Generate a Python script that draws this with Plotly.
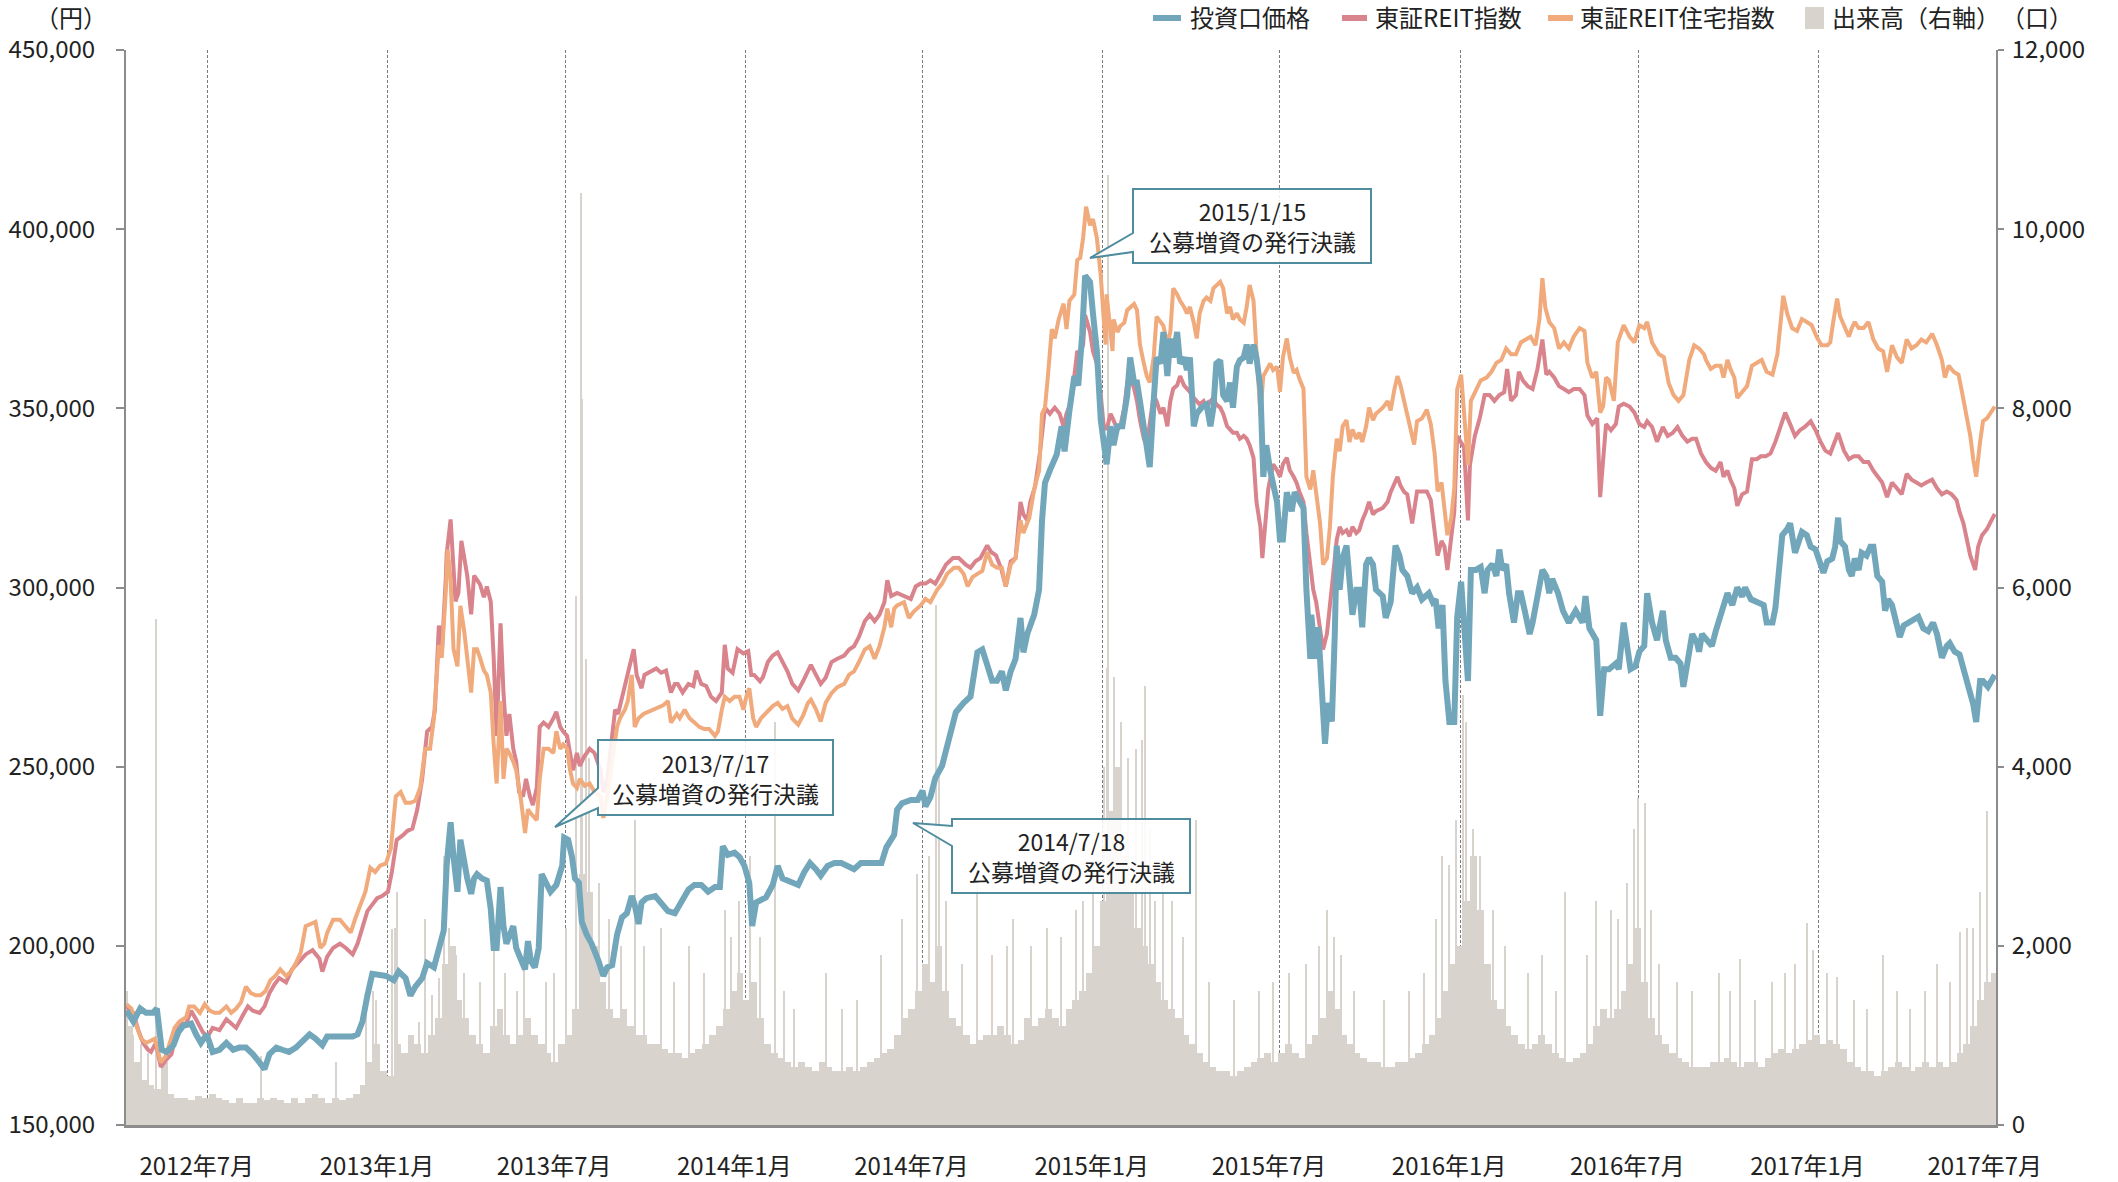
import pandas as pd
import plotly.graph_objects as go

# ---------------------------------------------------------------- data
# 投資口価格 (yen)
price_points = [
    ("2012-04-09", 181900), ("2012-04-16", 178900), ("2012-04-23", 182500), ("2012-04-29", 181300),
    ("2012-05-06", 181300), ("2012-05-10", 182500), ("2012-05-15", 171000), ("2012-05-20", 170400),
    ("2012-05-27", 172300), ("2012-06-01", 175900), ("2012-06-06", 177700), ("2012-06-14", 178300),
    ("2012-06-19", 175300), ("2012-06-24", 172900), ("2012-06-30", 175300), ("2012-07-06", 170400),
    ("2012-07-13", 171000), ("2012-07-20", 172900), ("2012-07-27", 171000), ("2012-08-02", 171600),
    ("2012-08-09", 171600), ("2012-08-16", 169800), ("2012-08-23", 167400), ("2012-08-28", 165600),
    ("2012-09-02", 169800), ("2012-09-09", 171600), ("2012-09-15", 171000), ("2012-09-22", 170400),
    ("2012-09-29", 171600), ("2012-10-06", 173500), ("2012-10-13", 175300), ("2012-10-19", 174100),
    ("2012-10-26", 172300), ("2012-10-31", 174700), ("2012-11-09", 174700), ("2012-11-19", 174700),
    ("2012-11-26", 174700), ("2012-12-01", 175300), ("2012-12-06", 178900), ("2012-12-11", 186100),
    ("2012-12-16", 192200), ("2012-12-30", 191600), ("2013-01-07", 190400), ("2013-01-12", 192800),
    ("2013-01-19", 191000), ("2013-01-24", 186100), ("2013-01-29", 188600), ("2013-02-05", 191000),
    ("2013-02-10", 195200), ("2013-02-17", 194000), ("2013-02-22", 199400), ("2013-02-27", 204300),
    ("2013-03-02", 222400), ("2013-03-06", 234500), ("2013-03-09", 224800), ("2013-03-13", 215100),
    ("2013-03-16", 229600), ("2013-03-20", 222400), ("2013-03-23", 218800), ("2013-03-27", 214500),
    ("2013-03-30", 218800), ("2013-04-02", 220000), ("2013-04-07", 218800), ("2013-04-12", 218200),
    ("2013-04-16", 210300), ("2013-04-19", 199400), ("2013-04-22", 199400), ("2013-04-26", 216400),
    ("2013-04-29", 205500), ("2013-05-02", 200600), ("2013-05-05", 203100), ("2013-05-09", 205500),
    ("2013-05-12", 199400), ("2013-05-17", 196400), ("2013-05-21", 193400), ("2013-05-24", 201300),
    ("2013-05-27", 195800), ("2013-05-31", 194000), ("2013-06-04", 199400), ("2013-06-07", 220000),
    ("2013-06-11", 217600), ("2013-06-16", 215100), ("2013-06-22", 217000), ("2013-06-28", 222400),
    ("2013-06-30", 230200), ("2013-07-04", 229600), ("2013-07-08", 224800), ("2013-07-11", 218800),
    ("2013-07-15", 217600), ("2013-07-18", 206700), ("2013-07-23", 203100), ("2013-07-28", 200600),
    ("2013-08-04", 195800), ("2013-08-09", 191600), ("2013-08-13", 194000), ("2013-08-18", 194600),
    ("2013-08-23", 203100), ("2013-08-28", 207900), ("2013-09-02", 209100), ("2013-09-07", 213900),
    ("2013-09-10", 211500), ("2013-09-14", 206100), ("2013-09-17", 212100), ("2013-09-22", 213300),
    ("2013-10-01", 213900), ("2013-10-07", 212100), ("2013-10-14", 209700), ("2013-10-21", 209100),
    ("2013-10-28", 212700), ("2013-11-04", 215700), ("2013-11-10", 217000), ("2013-11-17", 217000),
    ("2013-11-24", 215100), ("2013-12-01", 216400), ("2013-12-06", 216400), ("2013-12-09", 227800),
    ("2013-12-14", 225400), ("2013-12-21", 226000), ("2013-12-26", 224800), ("2013-12-31", 222400),
    ("2014-01-05", 217600), ("2014-01-08", 205500), ("2014-01-12", 212100), ("2014-01-17", 212700),
    ("2014-01-22", 213500), ("2014-01-29", 217000), ("2014-02-03", 222300), ("2014-02-08", 218800),
    ("2014-02-17", 217900), ("2014-02-24", 217000), ("2014-03-02", 220500), ("2014-03-08", 223100),
    ("2014-03-14", 221400), ("2014-03-19", 219600), ("2014-03-26", 222300), ("2014-04-02", 223100),
    ("2014-04-09", 223100), ("2014-04-16", 222300), ("2014-04-22", 221400), ("2014-04-29", 223100),
    ("2014-05-06", 223100), ("2014-05-13", 223100), ("2014-05-20", 223100), ("2014-05-25", 227500),
    ("2014-05-30", 229300), ("2014-06-02", 231000), ("2014-06-05", 238000), ("2014-06-10", 239800),
    ("2014-06-19", 240700), ("2014-06-26", 240700), ("2014-07-01", 243300), ("2014-07-04", 238900),
    ("2014-07-09", 241500), ("2014-07-14", 246800), ("2014-07-21", 250300), ("2014-07-28", 258200),
    ("2014-08-04", 265200), ("2014-08-12", 267800), ("2014-08-19", 269600), ("2014-08-26", 281900),
    ("2014-08-31", 282700), ("2014-09-05", 278400), ("2014-09-10", 274000), ("2014-09-15", 274000),
    ("2014-09-20", 276600), ("2014-09-24", 271300), ("2014-09-29", 276600), ("2014-10-04", 280100),
    ("2014-10-09", 291500), ("2014-10-12", 281900), ("2014-10-16", 287100), ("2014-10-23", 292400),
    ("2014-10-28", 299400), ("2014-10-31", 318700), ("2014-11-03", 329200), ("2014-11-08", 332700),
    ("2014-11-15", 337100), ("2014-11-20", 345000), ("2014-11-23", 338000), ("2014-11-28", 349400),
    ("2014-12-03", 359000), ("2014-12-07", 356400), ("2014-12-11", 370500), ("2014-12-14", 387000),
    ("2014-12-19", 385300), ("2014-12-22", 376500), ("2014-12-26", 366000), ("2014-12-30", 346700),
    ("2015-01-02", 339700), ("2015-01-05", 334400), ("2015-01-09", 345000), ("2015-01-12", 339700),
    ("2015-01-16", 345000), ("2015-01-21", 345000), ("2015-01-26", 353700), ("2015-01-29", 364200),
    ("2015-02-02", 357200), ("2015-02-05", 357200), ("2015-02-08", 352000), ("2015-02-12", 345000),
    ("2015-02-15", 337900), ("2015-02-18", 333600), ("2015-02-22", 352000), ("2015-02-25", 364200),
    ("2015-03-01", 362500), ("2015-03-04", 371300), ("2015-03-08", 359000), ("2015-03-11", 369500),
    ("2015-03-14", 364200), ("2015-03-18", 371300), ("2015-03-21", 362500), ("2015-03-25", 364200),
    ("2015-03-28", 360700), ("2015-03-31", 364200), ("2015-04-04", 345000), ("2015-04-07", 348500),
    ("2015-04-12", 350200), ("2015-04-17", 351100), ("2015-04-21", 345000), ("2015-04-24", 350200),
    ("2015-04-27", 362500), ("2015-05-01", 363400), ("2015-05-04", 353700), ("2015-05-08", 352000),
    ("2015-05-11", 357200), ("2015-05-14", 350200), ("2015-05-18", 361600), ("2015-05-21", 363400),
    ("2015-05-25", 364200), ("2015-05-28", 367800), ("2015-05-31", 362500), ("2015-06-04", 367800),
    ("2015-06-07", 364200), ("2015-06-11", 355500), ("2015-06-14", 330900), ("2015-06-17", 339700),
    ("2015-06-21", 332700), ("2015-06-24", 329200), ("2015-06-28", 323900), ("2015-07-01", 313400),
    ("2015-07-04", 313400), ("2015-07-08", 326600), ("2015-07-13", 321300), ("2015-07-16", 326600),
    ("2015-07-20", 324800), ("2015-07-25", 322200), ("2015-07-28", 299400), ("2015-08-01", 280100),
    ("2015-08-02", 292400), ("2015-08-06", 280100), ("2015-08-09", 288900), ("2015-08-12", 271300),
    ("2015-08-16", 256400), ("2015-08-19", 267800), ("2015-08-23", 262600), ("2015-08-26", 287100),
    ("2015-08-28", 311700), ("2015-08-31", 299400), ("2015-09-03", 308200), ("2015-09-07", 311700),
    ("2015-09-10", 301100), ("2015-09-13", 292400), ("2015-09-17", 299400), ("2015-09-20", 299400),
    ("2015-09-23", 288900), ("2015-09-27", 306400), ("2015-09-30", 308200), ("2015-10-04", 306400),
    ("2015-10-07", 299400), ("2015-10-14", 297600), ("2015-10-17", 291500), ("2015-10-22", 295900),
    ("2015-10-27", 311700), ("2015-10-31", 308900), ("2015-11-03", 304900), ("2015-11-08", 303200),
    ("2015-11-13", 298400), ("2015-11-18", 300000), ("2015-11-23", 296700), ("2015-11-30", 298400),
    ("2015-12-04", 295900), ("2015-12-07", 296700), ("2015-12-10", 288600), ("2015-12-14", 295100),
    ("2015-12-17", 273900), ("2015-12-21", 262500), ("2015-12-26", 262500), ("2015-12-29", 291800),
    ("2016-01-02", 301600), ("2016-01-05", 291800), ("2016-01-09", 273900), ("2016-01-12", 304900),
    ("2016-01-17", 304900), ("2016-01-22", 305700), ("2016-01-26", 298400), ("2016-01-29", 304900),
    ("2016-02-03", 306500), ("2016-02-07", 303200), ("2016-02-10", 310600), ("2016-02-13", 304900),
    ("2016-02-17", 306500), ("2016-02-20", 298400), ("2016-02-25", 290200), ("2016-02-29", 298400),
    ("2016-03-03", 298400), ("2016-03-07", 293500), ("2016-03-12", 287000), ("2016-03-15", 290200),
    ("2016-03-20", 298400), ("2016-03-25", 304900), ("2016-03-29", 303200), ("2016-04-01", 298400),
    ("2016-04-04", 302400), ("2016-04-10", 298400), ("2016-04-15", 293500), ("2016-04-21", 290200),
    ("2016-04-28", 293500), ("2016-05-05", 290200), ("2016-05-08", 297600), ("2016-05-12", 288600),
    ("2016-05-19", 285300), ("2016-05-23", 264200), ("2016-05-27", 277200), ("2016-06-01", 277200),
    ("2016-06-08", 278800), ("2016-06-11", 277200), ("2016-06-16", 290200), ("2016-06-20", 283700),
    ("2016-06-23", 277200), ("2016-06-28", 278000), ("2016-07-02", 282100), ("2016-07-07", 283700),
    ("2016-07-10", 298400), ("2016-07-15", 290200), ("2016-07-20", 285300), ("2016-07-26", 293500),
    ("2016-07-29", 285300), ("2016-08-03", 280400), ("2016-08-08", 280400), ("2016-08-13", 278800),
    ("2016-08-16", 272300), ("2016-08-20", 278800), ("2016-08-25", 287000), ("2016-08-30", 284500),
    ("2016-09-01", 282100), ("2016-09-04", 287000), ("2016-09-09", 285300), ("2016-09-14", 283700),
    ("2016-09-18", 287800), ("2016-09-21", 290200), ("2016-09-26", 295100), ("2016-09-30", 298400),
    ("2016-10-05", 295100), ("2016-10-10", 300000), ("2016-10-15", 297500), ("2016-10-18", 300000),
    ("2016-10-24", 296700), ("2016-10-29", 295900), ("2016-11-03", 295100), ("2016-11-06", 295100),
    ("2016-11-09", 290200), ("2016-11-15", 290200), ("2016-11-18", 294300), ("2016-11-21", 304900),
    ("2016-11-25", 314600), ("2016-11-30", 316300), ("2016-12-03", 317900), ("2016-12-08", 309700),
    ("2016-12-12", 313800), ("2016-12-15", 315500), ("2016-12-20", 314600), ("2016-12-24", 311400),
    ("2016-12-29", 310600), ("2017-01-03", 306500), ("2017-01-06", 304100), ("2017-01-10", 307300),
    ("2017-01-15", 308100), ("2017-01-18", 311400), ("2017-01-21", 319500), ("2017-01-23", 313000),
    ("2017-01-28", 311400), ("2017-02-01", 304900), ("2017-02-04", 303200), ("2017-02-07", 308100),
    ("2017-02-11", 304900), ("2017-02-14", 309700), ("2017-02-19", 308900), ("2017-02-23", 311400),
    ("2017-02-26", 311400), ("2017-03-02", 303200), ("2017-03-07", 301600), ("2017-03-10", 293500),
    ("2017-03-13", 296700), ("2017-03-17", 295100), ("2017-03-20", 291800), ("2017-03-25", 286200),
    ("2017-03-29", 289400), ("2017-04-03", 290200), ("2017-04-08", 291000), ("2017-04-13", 291800),
    ("2017-04-18", 288600), ("2017-04-23", 287800), ("2017-04-28", 290200), ("2017-05-02", 287000),
    ("2017-05-07", 280400), ("2017-05-12", 283700), ("2017-05-15", 284500), ("2017-05-20", 282100),
    ("2017-05-25", 281300), ("2017-05-29", 277200), ("2017-06-01", 275600), ("2017-06-05", 269900),
    ("2017-06-08", 267400), ("2017-06-11", 262500), ("2017-06-15", 273900), ("2017-06-18", 273900),
    ("2017-06-23", 272300), ("2017-06-30", 275600),
]

# 東証REIT指数 (rebased to the unit price at the start)
reit_points = [
    ("2012-04-09", 183100), ("2012-04-16", 181300), ("2012-04-21", 176500), ("2012-04-26", 172900),
    ("2012-05-01", 171000), ("2012-05-04", 170400), ("2012-05-09", 172900), ("2012-05-14", 166200),
    ("2012-05-19", 168000), ("2012-05-25", 169800), ("2012-05-30", 175900), ("2012-06-04", 178300),
    ("2012-06-09", 178300), ("2012-06-14", 181900), ("2012-06-19", 179500), ("2012-06-26", 175900),
    ("2012-07-01", 174700), ("2012-07-06", 177100), ("2012-07-13", 176500), ("2012-07-20", 179500),
    ("2012-07-25", 178300), ("2012-07-30", 177100), ("2012-08-06", 180700), ("2012-08-11", 183100),
    ("2012-08-16", 181900), ("2012-08-23", 181300), ("2012-08-28", 183100), ("2012-09-02", 186800),
    ("2012-09-07", 189200), ("2012-09-12", 191000), ("2012-09-19", 189800), ("2012-09-25", 193400),
    ("2012-10-03", 195800), ("2012-10-09", 197600), ("2012-10-16", 198800), ("2012-10-23", 196400),
    ("2012-10-26", 192800), ("2012-10-31", 197000), ("2012-11-06", 199400), ("2012-11-13", 200600),
    ("2012-11-19", 199400), ("2012-11-26", 197600), ("2012-12-01", 200600), ("2012-12-06", 205500),
    ("2012-12-11", 209700), ("2012-12-16", 211500), ("2012-12-21", 213300), ("2012-12-26", 213900),
    ("2013-01-01", 215100), ("2013-01-05", 220600), ("2013-01-10", 229600), ("2013-01-16", 230800),
    ("2013-01-21", 232100), ("2013-01-26", 232700), ("2013-01-31", 238100), ("2013-02-05", 246600),
    ("2013-02-10", 259800), ("2013-02-15", 261100), ("2013-02-18", 265900), ("2013-02-22", 289400),
    ("2013-02-25", 281600), ("2013-03-01", 302100), ("2013-03-02", 309400), ("2013-03-06", 319000),
    ("2013-03-09", 304500), ("2013-03-11", 296100), ("2013-03-14", 298500), ("2013-03-17", 313000),
    ("2013-03-20", 308200), ("2013-03-23", 303300), ("2013-03-27", 292500), ("2013-03-30", 303300),
    ("2013-04-02", 302100), ("2013-04-05", 300900), ("2013-04-09", 297300), ("2013-04-12", 300300),
    ("2013-04-16", 296100), ("2013-04-19", 280400), ("2013-04-22", 258600), ("2013-04-26", 290000),
    ("2013-04-29", 270700), ("2013-05-02", 258600), ("2013-05-05", 264700), ("2013-05-09", 255000),
    ("2013-05-12", 251400), ("2013-05-15", 242900), ("2013-05-19", 241700), ("2013-05-22", 246600),
    ("2013-05-26", 241700), ("2013-05-29", 239300), ("2013-06-02", 244100), ("2013-06-05", 261100),
    ("2013-06-09", 262300), ("2013-06-14", 261100), ("2013-06-19", 263500), ("2013-06-22", 265300),
    ("2013-06-26", 261100), ("2013-06-29", 259800), ("2013-07-03", 258600), ("2013-07-06", 253800),
    ("2013-07-09", 249000), ("2013-07-13", 253800), ("2013-07-16", 250200), ("2013-07-20", 252600),
    ("2013-07-23", 253800), ("2013-07-26", 255000), ("2013-07-31", 253800), ("2013-08-06", 249000),
    ("2013-08-09", 242900), ("2013-08-13", 246600), ("2013-08-16", 253800), ("2013-08-21", 265900),
    ("2013-08-24", 264700), ("2013-08-29", 270700), ("2013-09-02", 275600), ("2013-09-05", 278000),
    ("2013-09-09", 282800), ("2013-09-12", 275600), ("2013-09-17", 271900), ("2013-09-20", 275600),
    ("2013-09-27", 276800), ("2013-10-02", 277400), ("2013-10-07", 276200), ("2013-10-12", 276800),
    ("2013-10-17", 270700), ("2013-10-21", 273100), ("2013-10-24", 273100), ("2013-10-29", 270700),
    ("2013-11-04", 273100), ("2013-11-09", 272500), ("2013-11-12", 276800), ("2013-11-17", 273100),
    ("2013-11-22", 272500), ("2013-11-27", 269500), ("2013-12-02", 268300), ("2013-12-08", 270700),
    ("2013-12-11", 284000), ("2013-12-14", 277400), ("2013-12-19", 276200), ("2013-12-24", 282800),
    ("2013-12-30", 281600), ("2014-01-04", 282200), ("2014-01-07", 275600), ("2014-01-10", 275600),
    ("2014-01-16", 273800), ("2014-01-19", 275000), ("2014-01-24", 279200), ("2014-01-29", 281000),
    ("2014-02-03", 281900), ("2014-02-08", 279200), ("2014-02-13", 276600), ("2014-02-18", 273100),
    ("2014-02-24", 271300), ("2014-03-01", 273900), ("2014-03-06", 276600), ("2014-03-09", 278400),
    ("2014-03-14", 275700), ("2014-03-19", 273100), ("2014-03-24", 274800), ("2014-03-30", 279200),
    ("2014-04-05", 280100), ("2014-04-12", 281000), ("2014-04-17", 282700), ("2014-04-22", 283600),
    ("2014-04-27", 286200), ("2014-05-03", 290600), ("2014-05-08", 292400), ("2014-05-13", 290600),
    ("2014-05-18", 292400), ("2014-05-23", 295900), ("2014-05-26", 302000), ("2014-05-30", 297600),
    ("2014-06-05", 298500), ("2014-06-12", 297600), ("2014-06-19", 296800), ("2014-06-24", 300300),
    ("2014-06-29", 301100), ("2014-07-04", 301100), ("2014-07-09", 302000), ("2014-07-14", 301100),
    ("2014-07-20", 303800), ("2014-07-25", 306400), ("2014-08-01", 308200), ("2014-08-07", 308200),
    ("2014-08-14", 306400), ("2014-08-19", 305500), ("2014-08-24", 307300), ("2014-08-29", 308200),
    ("2014-09-05", 311700), ("2014-09-09", 309900), ("2014-09-14", 309000), ("2014-09-19", 305500),
    ("2014-09-24", 300300), ("2014-09-29", 307300), ("2014-10-04", 308200), ("2014-10-09", 323900),
    ("2014-10-12", 320400), ("2014-10-16", 318700), ("2014-10-19", 323900), ("2014-10-24", 328300),
    ("2014-10-29", 337900), ("2014-11-03", 350200), ("2014-11-08", 348500), ("2014-11-13", 350200),
    ("2014-11-18", 348500), ("2014-11-22", 344900), ("2014-11-25", 348500), ("2014-11-30", 352000),
    ("2014-12-03", 359000), ("2014-12-06", 366000), ("2014-12-09", 365100), ("2014-12-12", 367800),
    ("2014-12-14", 376000), ("2014-12-19", 371300), ("2014-12-22", 366000), ("2014-12-26", 362500),
    ("2014-12-30", 353700), ("2015-01-02", 345000), ("2015-01-05", 344100), ("2015-01-09", 348500),
    ("2015-01-12", 346700), ("2015-01-16", 344100), ("2015-01-19", 345000), ("2015-01-23", 350200),
    ("2015-01-26", 357200), ("2015-01-29", 359000), ("2015-02-02", 355500), ("2015-02-05", 352000),
    ("2015-02-08", 346700), ("2015-02-12", 341500), ("2015-02-15", 339700), ("2015-02-19", 348500),
    ("2015-02-22", 353700), ("2015-02-25", 352000), ("2015-03-01", 348500), ("2015-03-04", 350200),
    ("2015-03-08", 345000), ("2015-03-11", 352000), ("2015-03-14", 355500), ("2015-03-18", 356400),
    ("2015-03-21", 359000), ("2015-03-25", 356400), ("2015-03-28", 355500), ("2015-03-31", 354600),
    ("2015-04-04", 352900), ("2015-04-07", 352000), ("2015-04-10", 351100), ("2015-04-14", 352000),
    ("2015-04-17", 350200), ("2015-04-21", 352000), ("2015-04-24", 352900), ("2015-04-27", 351100),
    ("2015-05-01", 350200), ("2015-05-04", 348500), ("2015-05-08", 345000), ("2015-05-11", 344100),
    ("2015-05-14", 343200), ("2015-05-18", 343200), ("2015-05-21", 341500), ("2015-05-25", 342300),
    ("2015-05-28", 341500), ("2015-05-31", 339700), ("2015-06-04", 336200), ("2015-06-07", 323900),
    ("2015-06-11", 316900), ("2015-06-13", 308200), ("2015-06-16", 318700), ("2015-06-19", 327400),
    ("2015-06-24", 334400), ("2015-06-28", 332700), ("2015-07-01", 330900), ("2015-07-04", 334400),
    ("2015-07-08", 336200), ("2015-07-11", 332700), ("2015-07-15", 330900), ("2015-07-18", 329200),
    ("2015-07-21", 326600), ("2015-07-25", 323900), ("2015-07-28", 315200), ("2015-08-01", 306400),
    ("2015-08-04", 299400), ("2015-08-07", 295900), ("2015-08-11", 288900), ("2015-08-14", 282700),
    ("2015-08-18", 287100), ("2015-08-21", 295900), ("2015-08-24", 302900), ("2015-08-28", 313400),
    ("2015-08-31", 316900), ("2015-09-03", 315200), ("2015-09-07", 316000), ("2015-09-10", 314300),
    ("2015-09-13", 316900), ("2015-09-17", 315200), ("2015-09-20", 316000), ("2015-09-23", 318700),
    ("2015-09-27", 321300), ("2015-09-30", 323900), ("2015-10-04", 320400), ("2015-10-07", 321300),
    ("2015-10-14", 322200), ("2015-10-19", 323900), ("2015-10-22", 326600), ("2015-10-26", 329200),
    ("2015-10-29", 330900), ("2015-11-01", 328500), ("2015-11-05", 326600), ("2015-11-08", 326000),
    ("2015-11-13", 317900), ("2015-11-18", 326800), ("2015-11-23", 326800), ("2015-11-28", 326800),
    ("2015-12-02", 324400), ("2015-12-06", 316300), ("2015-12-09", 308900), ("2015-12-13", 313000),
    ("2015-12-16", 311400), ("2015-12-19", 304900), ("2015-12-23", 314600), ("2015-12-26", 321100),
    ("2015-12-29", 342300), ("2016-01-02", 340700), ("2016-01-05", 339100), ("2016-01-09", 318700),
    ("2016-01-11", 334200), ("2016-01-16", 342300), ("2016-01-21", 347200), ("2016-01-26", 353700),
    ("2016-01-31", 353700), ("2016-02-05", 352100), ("2016-02-10", 353700), ("2016-02-15", 354500),
    ("2016-02-18", 361000), ("2016-02-22", 352100), ("2016-02-27", 353700), ("2016-03-01", 360200),
    ("2016-03-05", 357800), ("2016-03-10", 356200), ("2016-03-15", 355400), ("2016-03-20", 361000),
    ("2016-03-25", 369200), ("2016-03-29", 359400), ("2016-04-01", 360200), ("2016-04-06", 358600),
    ("2016-04-11", 356200), ("2016-04-16", 355400), ("2016-04-21", 354500), ("2016-04-26", 355400),
    ("2016-05-02", 355400), ("2016-05-07", 353700), ("2016-05-10", 348000), ("2016-05-15", 345600),
    ("2016-05-20", 347200), ("2016-05-23", 325200), ("2016-05-25", 332600), ("2016-05-29", 345600),
    ("2016-06-03", 343900), ("2016-06-08", 345600), ("2016-06-11", 350500), ("2016-06-16", 351300),
    ("2016-06-22", 350500), ("2016-06-27", 348800), ("2016-07-02", 345600), ("2016-07-07", 344800),
    ("2016-07-10", 346400), ("2016-07-15", 344800), ("2016-07-20", 340700), ("2016-07-26", 344800),
    ("2016-07-31", 342300), ("2016-08-05", 343100), ("2016-08-10", 344800), ("2016-08-15", 342300),
    ("2016-08-20", 340700), ("2016-08-25", 341500), ("2016-08-29", 341500), ("2016-09-03", 337400),
    ("2016-09-08", 335000), ("2016-09-13", 333400), ("2016-09-18", 332600), ("2016-09-23", 335000),
    ("2016-09-26", 330900), ("2016-09-30", 332600), ("2016-10-03", 330100), ("2016-10-07", 327700),
    ("2016-10-10", 322800), ("2016-10-15", 326000), ("2016-10-20", 326800), ("2016-10-25", 335800),
    ("2016-10-30", 335800), ("2016-11-03", 336600), ("2016-11-08", 336600), ("2016-11-13", 337400),
    ("2016-11-18", 340700), ("2016-11-23", 344800), ("2016-11-28", 348800), ("2016-12-03", 345600),
    ("2016-12-08", 342300), ("2016-12-13", 343900), ("2016-12-18", 344800), ("2016-12-24", 346400),
    ("2016-12-29", 343900), ("2017-01-03", 340700), ("2017-01-08", 338200), ("2017-01-13", 337400),
    ("2017-01-18", 341500), ("2017-01-21", 343100), ("2017-01-27", 338200), ("2017-02-01", 335800),
    ("2017-02-06", 336600), ("2017-02-11", 336600), ("2017-02-16", 335000), ("2017-02-21", 335000),
    ("2017-02-26", 332600), ("2017-03-03", 330900), ("2017-03-07", 329300), ("2017-03-12", 325200),
    ("2017-03-17", 329300), ("2017-03-22", 327700), ("2017-03-27", 326000), ("2017-04-01", 331700),
    ("2017-04-06", 330100), ("2017-04-11", 329300), ("2017-04-16", 328500), ("2017-04-21", 329300),
    ("2017-04-27", 330100), ("2017-05-02", 327700), ("2017-05-07", 326000), ("2017-05-12", 326800),
    ("2017-05-17", 326000), ("2017-05-22", 324400), ("2017-05-25", 321100), ("2017-05-29", 317900),
    ("2017-06-01", 313800), ("2017-06-05", 308900), ("2017-06-10", 304900), ("2017-06-13", 311400),
    ("2017-06-17", 314600), ("2017-06-22", 316300), ("2017-06-30", 320500),
]

# 東証REIT住宅指数 (rebased to the unit price at the start)
residential_points = [
    ("2012-04-09", 183700), ("2012-04-14", 182500), ("2012-04-19", 177700), ("2012-04-24", 174100),
    ("2012-04-29", 172900), ("2012-05-04", 173500), ("2012-05-08", 174100), ("2012-05-11", 171000),
    ("2012-05-14", 167400), ("2012-05-19", 169200), ("2012-05-23", 172900), ("2012-05-28", 177100),
    ("2012-06-02", 178900), ("2012-06-09", 180100), ("2012-06-12", 183100), ("2012-06-17", 183100),
    ("2012-06-23", 181300), ("2012-06-28", 183700), ("2012-07-03", 181900), ("2012-07-08", 181300),
    ("2012-07-13", 181300), ("2012-07-20", 183100), ("2012-07-25", 181300), ("2012-07-30", 182500),
    ("2012-08-04", 184300), ("2012-08-09", 188600), ("2012-08-14", 186800), ("2012-08-19", 186200),
    ("2012-08-24", 186200), ("2012-08-29", 187400), ("2012-09-03", 190400), ("2012-09-08", 191600),
    ("2012-09-13", 193400), ("2012-09-19", 191600), ("2012-09-24", 192800), ("2012-09-29", 195200),
    ("2012-10-04", 198200), ("2012-10-09", 205500), ("2012-10-14", 206100), ("2012-10-19", 206700),
    ("2012-10-24", 199400), ("2012-10-28", 200600), ("2012-10-31", 203700), ("2012-11-06", 207300),
    ("2012-11-13", 207300), ("2012-11-19", 205500), ("2012-11-24", 203700), ("2012-11-29", 207900),
    ("2012-12-04", 211500), ("2012-12-09", 215100), ("2012-12-14", 221800), ("2012-12-19", 220600),
    ("2012-12-24", 222400), ("2012-12-30", 223000), ("2013-01-04", 227200), ("2013-01-09", 241700),
    ("2013-01-14", 242900), ("2013-01-19", 239900), ("2013-01-24", 239900), ("2013-01-29", 240500),
    ("2013-02-03", 244100), ("2013-02-08", 255000), ("2013-02-13", 255000), ("2013-02-17", 263500),
    ("2013-02-22", 284000), ("2013-02-25", 280400), ("2013-03-01", 298500), ("2013-03-03", 310600),
    ("2013-03-06", 302100), ("2013-03-09", 282800), ("2013-03-13", 278000), ("2013-03-16", 294900),
    ("2013-03-20", 287600), ("2013-03-23", 280400), ("2013-03-27", 270700), ("2013-03-30", 282800),
    ("2013-04-02", 282800), ("2013-04-05", 280400), ("2013-04-09", 276800), ("2013-04-12", 275600),
    ("2013-04-16", 270700), ("2013-04-19", 256200), ("2013-04-22", 245300), ("2013-04-26", 268300),
    ("2013-04-29", 246600), ("2013-05-02", 255000), ("2013-05-05", 253800), ("2013-05-09", 251400),
    ("2013-05-12", 249000), ("2013-05-17", 240500), ("2013-05-21", 231500), ("2013-05-24", 238100),
    ("2013-05-27", 236900), ("2013-06-02", 235100), ("2013-06-05", 246600), ("2013-06-09", 255000),
    ("2013-06-14", 255000), ("2013-06-19", 253800), ("2013-06-22", 259900), ("2013-06-26", 255000),
    ("2013-06-29", 256200), ("2013-07-03", 255000), ("2013-07-06", 249000), ("2013-07-09", 245300),
    ("2013-07-13", 244100), ("2013-07-16", 246600), ("2013-07-21", 244700), ("2013-07-26", 245300),
    ("2013-07-31", 242900), ("2013-08-06", 241700), ("2013-08-09", 235700), ("2013-08-13", 241700),
    ("2013-08-18", 251400), ("2013-08-23", 261100), ("2013-08-26", 263500), ("2013-08-31", 265900),
    ("2013-09-03", 268300), ("2013-09-07", 275600), ("2013-09-10", 261100), ("2013-09-14", 263500),
    ("2013-09-19", 264700), ("2013-09-24", 265300), ("2013-09-29", 265900), ("2013-10-04", 266500),
    ("2013-10-09", 267100), ("2013-10-14", 268300), ("2013-10-17", 262300), ("2013-10-23", 264700),
    ("2013-10-26", 263500), ("2013-10-31", 265900), ("2013-11-05", 263500), ("2013-11-10", 262300),
    ("2013-11-15", 261100), ("2013-11-20", 260500), ("2013-11-25", 260500), ("2013-12-01", 258600),
    ("2013-12-04", 259800), ("2013-12-08", 265900), ("2013-12-11", 269500), ("2013-12-16", 268300),
    ("2013-12-21", 269500), ("2013-12-26", 269500), ("2013-12-30", 265900), ("2014-01-02", 269500),
    ("2014-01-05", 271900), ("2014-01-09", 263500), ("2014-01-12", 261100), ("2014-01-17", 263500),
    ("2014-01-22", 265000), ("2014-01-29", 266900), ("2014-02-03", 267800), ("2014-02-08", 266100),
    ("2014-02-13", 266900), ("2014-02-18", 263400), ("2014-02-24", 261700), ("2014-03-01", 264300),
    ("2014-03-06", 267800), ("2014-03-09", 268700), ("2014-03-14", 266100), ("2014-03-19", 262600),
    ("2014-03-24", 267800), ("2014-03-30", 270500), ("2014-04-05", 272200), ("2014-04-12", 273100),
    ("2014-04-17", 275700), ("2014-04-22", 276600), ("2014-04-27", 279200), ("2014-05-03", 282700),
    ("2014-05-08", 283600), ("2014-05-13", 280100), ("2014-05-18", 283600), ("2014-05-23", 288900),
    ("2014-05-26", 294100), ("2014-05-30", 288900), ("2014-06-02", 294100), ("2014-06-05", 295000),
    ("2014-06-12", 295900), ("2014-06-17", 291500), ("2014-06-22", 293300), ("2014-06-29", 295000),
    ("2014-07-04", 296800), ("2014-07-09", 295900), ("2014-07-16", 299400), ("2014-07-21", 301100),
    ("2014-07-26", 303800), ("2014-08-02", 305500), ("2014-08-07", 305500), ("2014-08-12", 303800),
    ("2014-08-16", 300300), ("2014-08-21", 302900), ("2014-08-26", 303800), ("2014-08-31", 304600),
    ("2014-09-05", 309900), ("2014-09-10", 306400), ("2014-09-15", 305500), ("2014-09-20", 305500),
    ("2014-09-24", 300300), ("2014-09-29", 306400), ("2014-10-04", 308200), ("2014-10-09", 318700),
    ("2014-10-12", 315200), ("2014-10-18", 319500), ("2014-10-23", 327400), ("2014-10-28", 332700),
    ("2014-10-31", 348500), ("2014-11-03", 350200), ("2014-11-06", 359000), ("2014-11-10", 372100),
    ("2014-11-13", 369500), ("2014-11-17", 374800), ("2014-11-22", 379200), ("2014-11-25", 372100),
    ("2014-11-28", 380000), ("2014-12-03", 381800), ("2014-12-06", 391400), ("2014-12-09", 392000),
    ("2014-12-12", 397600), ("2014-12-15", 406300), ("2014-12-19", 401100), ("2014-12-22", 402800),
    ("2014-12-26", 397600), ("2014-12-30", 387000), ("2015-01-02", 374800), ("2015-01-04", 367800),
    ("2015-01-05", 381800), ("2015-01-09", 369500), ("2015-01-11", 366000), ("2015-01-12", 374800),
    ("2015-01-16", 371300), ("2015-01-19", 373000), ("2015-01-23", 373900), ("2015-01-26", 377400),
    ("2015-01-29", 378300), ("2015-02-02", 379100), ("2015-02-05", 377400), ("2015-02-08", 367800),
    ("2015-02-12", 362500), ("2015-02-15", 359000), ("2015-02-18", 357200), ("2015-02-22", 364200),
    ("2015-02-25", 375600), ("2015-03-01", 373900), ("2015-03-04", 373000), ("2015-03-08", 367800),
    ("2015-03-11", 371300), ("2015-03-14", 383500), ("2015-03-18", 381800), ("2015-03-21", 380000),
    ("2015-03-25", 378300), ("2015-03-28", 376500), ("2015-03-31", 378300), ("2015-04-04", 373900),
    ("2015-04-07", 369500), ("2015-04-10", 376500), ("2015-04-14", 380000), ("2015-04-17", 380900),
    ("2015-04-21", 380000), ("2015-04-24", 383500), ("2015-04-27", 384400), ("2015-05-01", 385300),
    ("2015-05-04", 383500), ("2015-05-08", 376500), ("2015-05-11", 378300), ("2015-05-14", 374800),
    ("2015-05-18", 376500), ("2015-05-21", 374800), ("2015-05-25", 373900), ("2015-05-28", 378300),
    ("2015-05-31", 384400), ("2015-06-04", 380000), ("2015-06-07", 366000), ("2015-06-11", 348500),
    ("2015-06-14", 359000), ("2015-06-17", 360700), ("2015-06-21", 362500), ("2015-06-24", 360700),
    ("2015-06-28", 361600), ("2015-07-01", 354600), ("2015-07-04", 364200), ("2015-07-08", 369500),
    ("2015-07-11", 364200), ("2015-07-15", 359900), ("2015-07-18", 360700), ("2015-07-21", 358100),
    ("2015-07-25", 355500), ("2015-07-28", 330900), ("2015-08-01", 327400), ("2015-08-04", 332700),
    ("2015-08-07", 326600), ("2015-08-11", 317800), ("2015-08-14", 306400), ("2015-08-18", 308200),
    ("2015-08-21", 316900), ("2015-08-24", 330900), ("2015-08-28", 341500), ("2015-08-31", 338000),
    ("2015-09-03", 345000), ("2015-09-07", 346700), ("2015-09-10", 340600), ("2015-09-13", 344100),
    ("2015-09-17", 341500), ("2015-09-20", 343200), ("2015-09-23", 340600), ("2015-09-27", 345000),
    ("2015-09-30", 350200), ("2015-10-04", 346700), ("2015-10-07", 348500), ("2015-10-14", 350200),
    ("2015-10-19", 352000), ("2015-10-22", 349400), ("2015-10-26", 355500), ("2015-10-29", 359000),
    ("2015-11-01", 356500), ("2015-11-06", 350500), ("2015-11-11", 345600), ("2015-11-15", 339900),
    ("2015-11-18", 346400), ("2015-11-23", 347200), ("2015-11-28", 349600), ("2015-12-02", 345600),
    ("2015-12-06", 337400), ("2015-12-09", 326800), ("2015-12-13", 329300), ("2015-12-16", 321100),
    ("2015-12-19", 314600), ("2015-12-23", 319500), ("2015-12-26", 327700), ("2015-12-29", 355300),
    ("2016-01-02", 359400), ("2016-01-05", 348800), ("2016-01-09", 334200), ("2016-01-12", 352100),
    ("2016-01-17", 355300), ("2016-01-22", 357800), ("2016-01-28", 358600), ("2016-02-02", 360200),
    ("2016-02-07", 362700), ("2016-02-12", 363500), ("2016-02-17", 366700), ("2016-02-22", 365100),
    ("2016-02-27", 365100), ("2016-03-03", 368400), ("2016-03-08", 369200), ("2016-03-13", 370000),
    ("2016-03-18", 367600), ("2016-03-22", 374900), ("2016-03-25", 386300), ("2016-03-28", 378100),
    ("2016-04-01", 374100), ("2016-04-06", 372400), ("2016-04-11", 366700), ("2016-04-16", 368400),
    ("2016-04-21", 366700), ("2016-04-26", 370000), ("2016-05-02", 372400), ("2016-05-07", 371600),
    ("2016-05-10", 362700), ("2016-05-15", 358600), ("2016-05-19", 360200), ("2016-05-23", 348800),
    ("2016-05-26", 350500), ("2016-05-29", 358600), ("2016-06-01", 357800), ("2016-06-06", 352100),
    ("2016-06-10", 368400), ("2016-06-16", 373200), ("2016-06-22", 370000), ("2016-06-27", 368400),
    ("2016-07-02", 373200), ("2016-07-07", 372400), ("2016-07-10", 374100), ("2016-07-15", 368400),
    ("2016-07-22", 365100), ("2016-07-27", 364300), ("2016-08-01", 357000), ("2016-08-06", 353700),
    ("2016-08-11", 352100), ("2016-08-16", 353700), ("2016-08-22", 363500), ("2016-08-27", 367600),
    ("2016-09-01", 366700), ("2016-09-06", 365100), ("2016-09-08", 363500), ("2016-09-13", 361000),
    ("2016-09-18", 361900), ("2016-09-23", 361900), ("2016-09-26", 358600), ("2016-09-30", 363500),
    ("2016-10-03", 361000), ("2016-10-07", 358600), ("2016-10-10", 352900), ("2016-10-15", 354500),
    ("2016-10-20", 356200), ("2016-10-25", 361900), ("2016-10-30", 362700), ("2016-11-04", 363500),
    ("2016-11-09", 360200), ("2016-11-15", 359400), ("2016-11-20", 365100), ("2016-11-23", 373200),
    ("2016-11-26", 381400), ("2016-11-30", 376500), ("2016-12-05", 372400), ("2016-12-10", 371600),
    ("2016-12-15", 374900), ("2016-12-20", 374100), ("2016-12-25", 373200), ("2016-12-30", 370000),
    ("2017-01-04", 367600), ("2017-01-10", 367600), ("2017-01-13", 368400), ("2017-01-16", 374100),
    ("2017-01-20", 380600), ("2017-01-23", 375700), ("2017-01-27", 373200), ("2017-02-01", 370000),
    ("2017-02-04", 372400), ("2017-02-07", 374100), ("2017-02-11", 372400), ("2017-02-16", 372400),
    ("2017-02-21", 374100), ("2017-02-26", 369200), ("2017-03-03", 366700), ("2017-03-08", 365900),
    ("2017-03-12", 360200), ("2017-03-17", 367600), ("2017-03-22", 364300), ("2017-03-27", 362700),
    ("2017-04-01", 369200), ("2017-04-06", 366700), ("2017-04-11", 367600), ("2017-04-16", 369200),
    ("2017-04-21", 368400), ("2017-04-27", 370800), ("2017-05-02", 367600), ("2017-05-07", 363500),
    ("2017-05-10", 358600), ("2017-05-14", 361900), ("2017-05-19", 360200), ("2017-05-24", 359400),
    ("2017-05-27", 355300), ("2017-05-31", 349600), ("2017-06-05", 342300), ("2017-06-08", 335800),
    ("2017-06-11", 330900), ("2017-06-15", 340700), ("2017-06-18", 346400), ("2017-06-22", 347200),
    ("2017-06-30", 350500),
]

# 出来高 (units): weekly typical level, one value per week starting 2012-04-09
volume_first_week = "2012-04-09"
volume_weekly = [
    1100, 700, 500, 450, 400, 700, 350, 300, 300, 280, 320, 300, 350, 300, 280, 250, 300,
    250, 250, 300, 280, 300, 280, 250, 300, 250, 300, 350, 300, 250, 300, 280, 300, 350,
    450, 700, 900, 600, 550,
    900, 800, 1000, 900, 800, 1000, 1200, 1800, 2000, 1400, 1200, 1000,
    900, 800, 1100, 1300, 1000, 900, 1000, 1200, 1000, 900, 800, 700, 900,
    1000, 1300, 2800, 2600, 2000, 1600, 1300, 1200, 1300, 1100, 1000, 1000, 900, 900,
    850, 800, 800, 750, 800, 850, 900, 1000, 1100, 1300, 1500, 1700, 1400,
    1600, 1200, 900, 800, 750, 700, 650, 700, 650, 600, 700, 650, 600,
    600, 650, 600, 650, 700, 750, 800, 850, 1000, 1200, 1300, 1500, 1800,
    1600, 2000, 1500, 1200, 1100, 1000, 900, 950, 1000, 1000, 1100, 1000, 900,
    950, 1200, 1100, 1200, 1300, 1200, 1100, 1300, 1400, 1500, 1700, 2000, 2500,
    3500, 4000, 3000, 2600, 2200, 2000, 1800, 1600, 1400, 1300, 1200, 1000, 900,
    800, 700, 650, 600, 600, 550, 600, 650, 700, 750, 800, 700, 800,
    900, 800, 750, 900, 1000, 1200, 1500, 1300, 1000, 900, 800, 750, 700,
    700, 650, 650, 700, 700, 750, 800, 900, 1000, 1200, 1500, 1800, 2000,
    2500, 3000, 2400, 1800, 1400, 1300, 1100, 1000, 900, 850, 900, 1000, 900,
    800, 750, 700, 750, 800, 900, 1100, 1300, 1200, 1300, 1500, 1800, 2200,
    1600, 1200, 1000, 900, 800, 750, 700, 650, 650, 650, 700, 700, 750,
    700, 650, 700, 700, 650, 750, 800, 850, 800, 850, 900, 950, 1000,
    900, 950, 900, 850, 700, 650, 600, 600, 550, 600, 650, 700, 650,
    600, 650, 700, 650, 700, 650, 700, 800, 900, 1100, 1400, 1600, 1700,
]

# 出来高 (units): single-day surges standing above the weekly level
volume_spike_dates = [
    "2012-04-10", "2012-04-16", "2012-04-24", "2012-05-01", "2012-05-09", "2012-08-25",
    "2012-11-09", "2012-12-10", "2012-12-17", "2012-12-20", "2013-01-05", "2013-01-08",
    "2013-01-10", "2013-02-02", "2013-02-08", "2013-02-15", "2013-02-22", "2013-02-27",
    "2013-03-05", "2013-03-12", "2013-03-20", "2013-04-05", "2013-04-19", "2013-05-01",
    "2013-05-13", "2013-05-20", "2013-06-12", "2013-06-20", "2013-07-02", "2013-07-12",
    "2013-07-17", "2013-07-18", "2013-07-22", "2013-07-25", "2013-08-05", "2013-08-15",
    "2013-08-27", "2013-09-10", "2013-09-20", "2013-10-07", "2013-10-20", "2013-11-05",
    "2013-11-20", "2013-12-11", "2013-12-18", "2013-12-26", "2014-01-06", "2014-01-16",
    "2014-01-31", "2014-02-10", "2014-02-20", "2014-03-25", "2014-04-10", "2014-04-25",
    "2014-05-20", "2014-06-10", "2014-06-25", "2014-07-08", "2014-07-15", "2014-07-18",
    "2014-07-25", "2014-08-10", "2014-08-26", "2014-09-10", "2014-09-25", "2014-10-01",
    "2014-10-20", "2014-11-05", "2014-11-20", "2014-12-05", "2014-12-12", "2014-12-22",
    "2015-01-02", "2015-01-05", "2015-01-06", "2015-01-07", "2015-01-13", "2015-01-20",
    "2015-01-27", "2015-02-04", "2015-02-10", "2015-02-13", "2015-02-18", "2015-02-23",
    "2015-03-04", "2015-03-13", "2015-03-24", "2015-04-06", "2015-04-20", "2015-05-15",
    "2015-06-10", "2015-06-24", "2015-07-10", "2015-07-28", "2015-08-10", "2015-08-18",
    "2015-08-25", "2015-09-01", "2015-09-15", "2015-10-15", "2015-11-10", "2015-11-25",
    "2015-12-07", "2015-12-14", "2015-12-21", "2015-12-28", "2016-01-04", "2016-01-07",
    "2016-01-14", "2016-01-21", "2016-02-04", "2016-02-16", "2016-03-10", "2016-03-25",
    "2016-04-08", "2016-04-17", "2016-05-10", "2016-05-19", "2016-06-03", "2016-06-10",
    "2016-06-20", "2016-06-27", "2016-07-01", "2016-07-08", "2016-07-14", "2016-07-22",
    "2016-08-10", "2016-08-25", "2016-09-21", "2016-10-03", "2016-10-13", "2016-10-28",
    "2016-11-15", "2016-11-28", "2016-12-08", "2016-12-20", "2016-12-26", "2017-01-10",
    "2017-01-20", "2017-02-06", "2017-02-20", "2017-03-08", "2017-03-22", "2017-04-05",
    "2017-04-20", "2017-05-02", "2017-05-15", "2017-05-26", "2017-06-02", "2017-06-08",
    "2017-06-15", "2017-06-22",
]
volume_spike_values = [
    1500, 1000, 900, 800, 5650, 770,
    700, 1400, 1500, 1400, 2190, 2200,
    2600, 1150, 2300, 1450, 1640, 3000,
    2200, 1900, 1700, 1600, 2000, 1700,
    1500, 1800, 1600, 1700, 2200, 5900,
    10400, 8100, 5200, 4100, 2700, 2300,
    2000, 3400, 2000, 2200, 1600, 2000,
    1700, 2400, 2100, 2500, 3000, 2100,
    4500, 1500, 1300, 1700, 1300, 1400,
    1900, 2300, 2800, 3000, 5800, 4000,
    2500, 1800, 2700, 1900, 2000, 2300,
    2000, 2200, 2100, 2400, 2500, 2900,
    4000, 5100, 10600, 6300, 5000, 4500,
    4100, 4200, 4300, 4900, 3300, 2500,
    2700, 2500, 2100, 3400, 1600, 1400,
    1500, 1600, 1700, 1800, 2000, 2400,
    2100, 1900, 1500, 1400, 1500, 1700,
    2300, 3000, 2900, 3400, 4800, 4500,
    3300, 3000, 2400, 2000, 1700, 1900,
    1500, 2600, 1900, 2500, 2400, 2300,
    2700, 3300, 3650, 3600, 2400, 1800,
    1600, 1500, 1700, 1500, 1850, 1400,
    1600, 1700, 1800, 2250, 1950, 1700,
    1650, 1400, 1300, 1900, 1500, 1300,
    1500, 1800, 1600, 2150, 2200, 2200,
    2600, 3500,
]

# x-axis ticks (half-yearly)
tick_dates = ["2012-07-01", "2013-01-01", "2013-07-01", "2014-01-01", "2014-07-01",
              "2015-01-01", "2015-07-01", "2016-01-01", "2016-07-01", "2017-01-01", "2017-07-01"]
tick_labels = ["2012年7月", "2013年1月", "2013年7月", "2014年1月", "2014年7月",
               "2015年1月", "2015年7月", "2016年1月", "2016年7月", "2017年1月", "2017年7月"]

# ---------------------------------------------------------------- styling
FONT = "Noto Sans CJK JP"
TEXT = "#222222"
AXIS_GREY = "#8c8c8c"
C_PRICE = "#72a7bb"
C_REIT = "#d9838c"
C_RESI = "#f0aa7c"
C_VOL = "#d9d3cd"
C_CALLOUT = "#4f8c9e"

W, H = 2118, 1182
PLOT_L, PLOT_R, PLOT_T, PLOT_B = 126, 1996, 50, 1125


def to_paper(x, y):
    """Convert page pixels to paper coordinates of the plot area."""
    return (x - PLOT_L) / (PLOT_R - PLOT_L), (PLOT_B - y) / (PLOT_B - PLOT_T)


def split(points):
    return [p[0] for p in points], [p[1] for p in points]


price_x, price_y = split(price_points)
reit_x, reit_y = split(reit_points)
resi_x, resi_y = split(residential_points)
vol_x = pd.date_range(volume_first_week, periods=len(volume_weekly), freq="7D")

DAY_MS = 86_400_000

fig = go.Figure()

# volume on the base (right-hand) axis so it stays beneath the lines
fig.add_trace(go.Bar(
    x=vol_x, y=volume_weekly, name="出来高（右軸）", yaxis="y",
    marker=dict(color=C_VOL, line=dict(width=0)),
    width=[7 * DAY_MS] * len(volume_weekly), offset=0,
    showlegend=False, hoverinfo="skip",
))
fig.add_trace(go.Bar(
    x=volume_spike_dates, y=volume_spike_values, name="出来高（右軸）", yaxis="y",
    marker=dict(color=C_VOL, line=dict(width=0)),
    width=[1.3 * DAY_MS] * len(volume_spike_values),
    showlegend=False, hoverinfo="skip",
))

fig.add_trace(go.Scatter(
    x=reit_x, y=reit_y, name="東証REIT指数", yaxis="y2", mode="lines",
    line=dict(color=C_REIT, width=4), showlegend=False,
))
fig.add_trace(go.Scatter(
    x=resi_x, y=resi_y, name="東証REIT住宅指数", yaxis="y2", mode="lines",
    line=dict(color=C_RESI, width=4), showlegend=False,
))
fig.add_trace(go.Scatter(
    x=price_x, y=price_y, name="投資口価格", yaxis="y2", mode="lines",
    line=dict(color=C_PRICE, width=6), showlegend=False,
))

shapes = []
annotations = []

# callouts for the public-offering resolutions
callouts = [
    dict(text="2013/7/17<br>公募増資の発行決議", box=(598, 740, 833, 815), tip=(555, 827), wedge=(788, 808)),
    dict(text="2014/7/18<br>公募増資の発行決議", box=(952, 819, 1190, 893), tip=(913, 823), wedge=(826, 846)),
    dict(text="2015/1/15<br>公募増資の発行決議", box=(1133, 189, 1371, 263), tip=(1090, 258), wedge=(233, 252)),
]
for c in callouts:
    x0, y0, x1, y1 = c["box"]
    tx, ty = c["tip"]
    w0, w1 = c["wedge"]
    pts = [(x0, y0), (x1, y0), (x1, y1), (x0, y1), (x0, w1), (tx, ty), (x0, w0)]
    pp = [to_paper(px, py) for px, py in pts]
    path = "M " + " L ".join(f"{a:.5f},{b:.5f}" for a, b in pp) + " Z"
    shapes.append(dict(type="path", xref="paper", yref="paper", path=path,
                       fillcolor="rgba(255,255,255,0.88)",
                       line=dict(color=C_CALLOUT, width=2), layer="above"))
    cx, cy = to_paper((x0 + x1) / 2, (y0 + y1) / 2)
    annotations.append(dict(xref="paper", yref="paper", x=cx, y=cy, text=c["text"],
                            showarrow=False, align="center", xanchor="center", yanchor="middle",
                            font=dict(family=FONT, size=23, color=TEXT)))

# legend row across the top right
LEG_Y = 17
legend_items = [
    dict(kind="line", color=C_PRICE, x0=1153, x1=1181, text="投資口価格", tx=1188),
    dict(kind="line", color=C_REIT, x0=1342, x1=1367, text="東証REIT指数", tx=1373),
    dict(kind="line", color=C_RESI, x0=1548, x1=1573, text="東証REIT住宅指数", tx=1578),
    dict(kind="box", color=C_VOL, x0=1805, x1=1824, text="出来高（右軸）", tx=1830),
]
for it in legend_items:
    if it["kind"] == "line":
        a = to_paper(it["x0"], LEG_Y + 1)
        b = to_paper(it["x1"], LEG_Y + 1)
        shapes.append(dict(type="line", xref="paper", yref="paper", x0=a[0], y0=a[1], x1=b[0], y1=b[1],
                           line=dict(color=it["color"], width=6), layer="above"))
    else:
        a = to_paper(it["x0"], LEG_Y - 10)
        b = to_paper(it["x1"], LEG_Y + 12)
        shapes.append(dict(type="rect", xref="paper", yref="paper", x0=a[0], y0=a[1], x1=b[0], y1=b[1],
                           fillcolor=it["color"], line=dict(width=0), layer="above"))
    tx, ty = to_paper(it["tx"], LEG_Y)
    annotations.append(dict(xref="paper", yref="paper", x=tx, y=ty, text=it["text"], showarrow=False,
                            xanchor="left", yanchor="middle", font=dict(family=FONT, size=24, color=TEXT)))

# axis unit captions
ax_l, ay = to_paper(71, LEG_Y)
ax_r, _ = to_paper(2037, LEG_Y)
annotations.append(dict(xref="paper", yref="paper", x=ax_l, y=ay, text="（円）", showarrow=False,
                        xanchor="center", yanchor="middle", font=dict(family=FONT, size=24, color=TEXT)))
annotations.append(dict(xref="paper", yref="paper", x=ax_r, y=ay, text="（口）", showarrow=False,
                        xanchor="center", yanchor="middle", font=dict(family=FONT, size=24, color=TEXT)))

fig.update_layout(
    width=W, height=H,
    margin=dict(l=PLOT_L, r=W - PLOT_R, t=PLOT_T, b=H - PLOT_B, pad=0, autoexpand=False),
    paper_bgcolor="white", plot_bgcolor="white",
    font=dict(family=FONT, size=24, color=TEXT),
    barmode="overlay", bargap=0,
    showlegend=False,
    xaxis=dict(
        type="date", range=["2012-04-08 12:00", "2017-07-01 06:00"],
        tickmode="array", tickvals=tick_dates, ticktext=tick_labels,
        showgrid=True, gridcolor="#7a7a7a", gridwidth=1, griddash="3px,2px",
        showline=True, linecolor=AXIS_GREY, linewidth=3,
        ticks="", ticklabelshift=-11, ticklabelstandoff=18,
        tickfont=dict(family=FONT, size=24, color=TEXT),
        zeroline=False, anchor="y", automargin=False,
    ),
    yaxis=dict(
        range=[0, 12000], tickmode="linear", tick0=0, dtick=2000, tickformat=",d",
        side="right", showgrid=False, zeroline=False,
        showline=True, linecolor=AXIS_GREY, linewidth=2,
        ticks="outside", ticklen=6, tickwidth=2, tickcolor=AXIS_GREY,
        tickfont=dict(family=FONT, size=24, color=TEXT), ticklabelstandoff=3,
        automargin=False,
    ),
    yaxis2=dict(
        range=[150000, 450000], tickmode="linear", tick0=150000, dtick=50000, tickformat=",d",
        side="left", overlaying="y", showgrid=False, zeroline=False,
        showline=True, linecolor=AXIS_GREY, linewidth=2,
        ticks="outside", ticklen=8, tickwidth=2, tickcolor=AXIS_GREY,
        tickfont=dict(family=FONT, size=24, color=TEXT), ticklabelstandoff=16,
        automargin=False,
    ),
    shapes=shapes,
    annotations=annotations,
)

fig.write_html("out.html")
